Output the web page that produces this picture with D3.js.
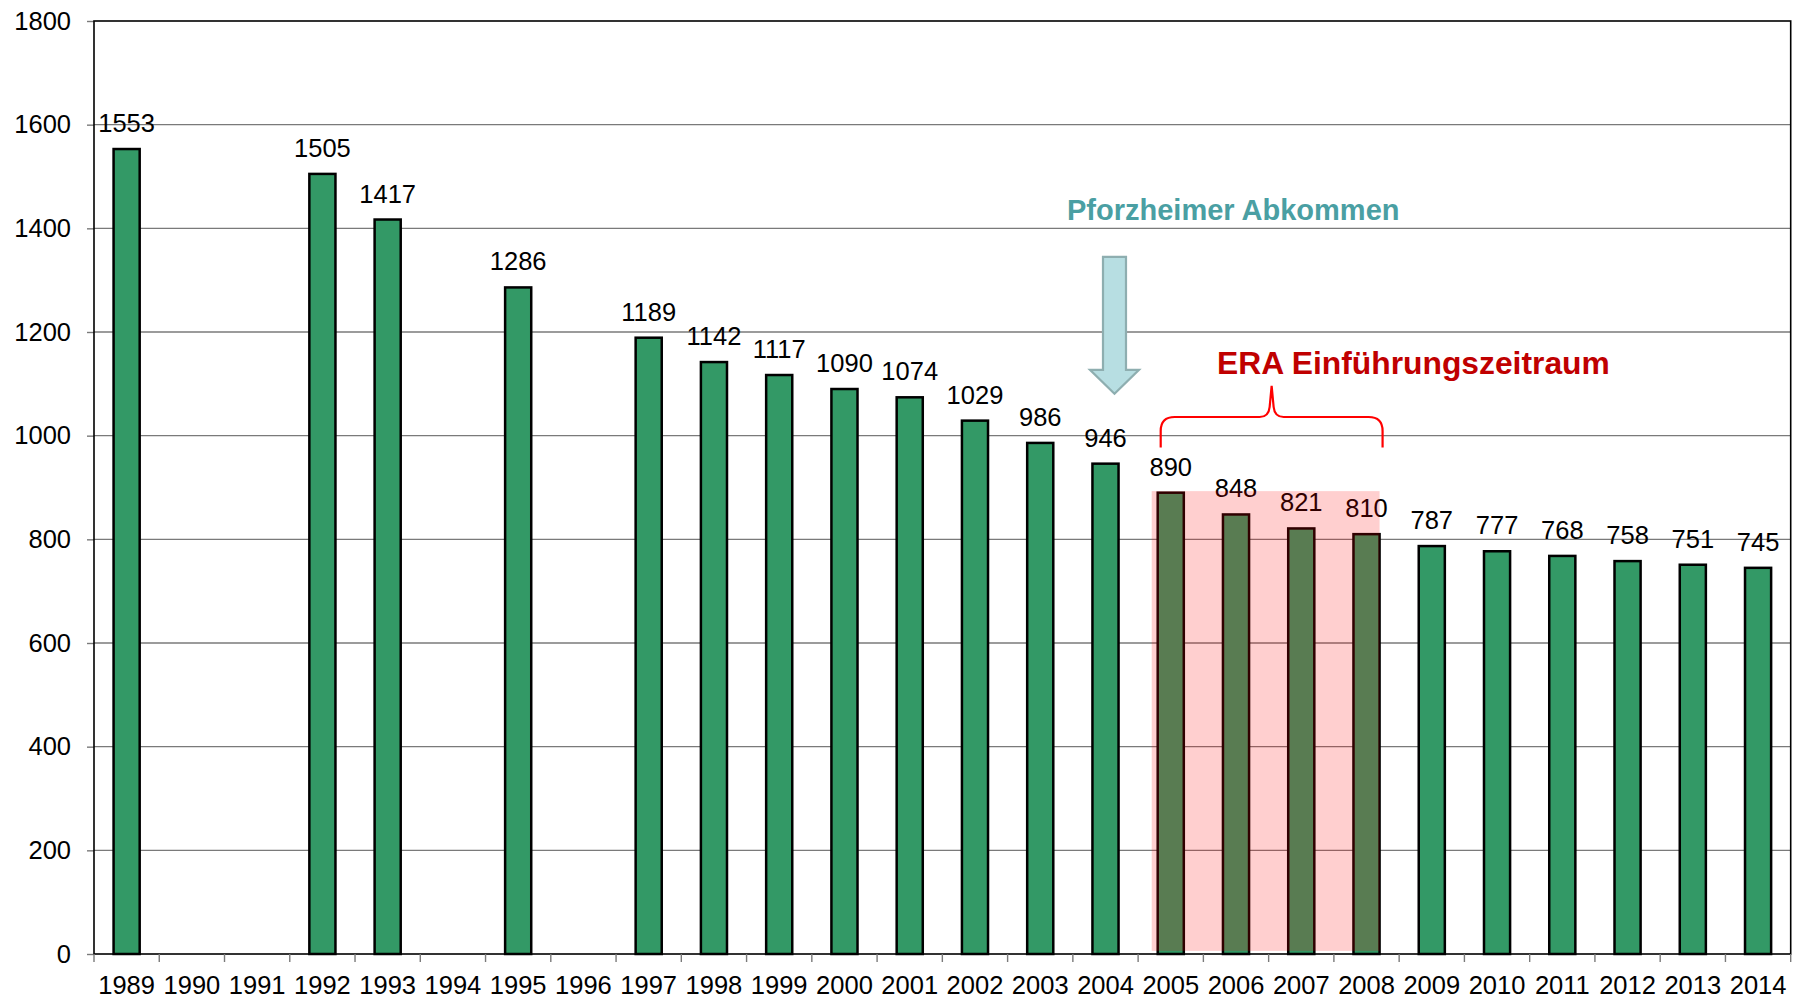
<!DOCTYPE html>
<html>
<head>
<meta charset="utf-8">
<script src="https://cdn.jsdelivr.net/npm/d3@7"></script>
<style>
  html, body { margin: 0; padding: 0; background: #fff; }
  text { font-family: "Liberation Sans", Arial, sans-serif; }
</style>
</head>
<body>
<div id="chart"></div>
<script>
const years = ["1989", "1990", "1991", "1992", "1993", "1994", "1995", "1996", "1997", "1998", "1999",
    "2000", "2001", "2002", "2003", "2004", "2005", "2006", "2007", "2008", "2009", "2010", "2011",
    "2012", "2013", "2014"];
// null = no value for that year
const values = [1553, null, null, 1505, 1417, null, 1286, null, 1189, 1142, 1117,
    1090, 1074, 1029, 986, 946, 890, 848, 821, 810, 787, 777, 768,
    758, 751, 745];
const yTicks = [0, 200, 400, 600, 800, 1000, 1200, 1400, 1600, 1800];
const eraYears = ["2005", "2008"];
const arrowLabel = "Pforzheimer Abkommen";
const eraLabel = "ERA Einführungszeitraum";

const width = 1804;
const height = 999;
const margin = { left: 94, right: 13.3, top: 21, bottom: 45 };
const fontSize = 25.5;

const svg = d3.select("#chart")
    .append("svg")
    .attr("width", width)
    .attr("height", height);

const x = d3.scaleBand()
    .domain(years)
    .range([margin.left, width - margin.right])
    .paddingInner(0.6)
    .paddingOuter(0.3);

const y = d3.scaleLinear()
    .domain([0, 1800])
    .range([height - margin.bottom, margin.top]);

const bw = x.bandwidth();
const gap = (x.step() - bw) / 2;

// gridlines
svg.append("g")
    .selectAll("line")
    .data(yTicks.filter(d => d > 0 && d < 1800))
    .enter()
    .append("line")
    .attr("x1", margin.left)
    .attr("x2", width - margin.right)
    .attr("y1", d => y(d))
    .attr("y2", d => y(d))
    .attr("stroke", "#7a7a7a")
    .attr("stroke-width", 1.4);

// y axis
const yAxis = svg.append("g")
    .attr("transform", `translate(${margin.left},0)`)
    .call(d3.axisLeft(y).tickValues(yTicks).tickFormat(d3.format("d")).tickSize(7).tickPadding(16));
yAxis.select(".domain").remove();
yAxis.selectAll(".tick line").attr("stroke", "#7a7a7a").attr("stroke-width", 1.4);
yAxis.selectAll(".tick text")
    .attr("font-size", fontSize)
    .attr("fill", "#000")
    .style("font-family", "'Liberation Sans', Arial, sans-serif");

// bars
const data = years.map((yr, i) => ({ year: yr, value: values[i] })).filter(d => d.value != null);

svg.append("g")
    .selectAll("rect")
    .data(data)
    .enter()
    .append("rect")
    .attr("x", d => x(d.year))
    .attr("y", d => y(d.value))
    .attr("width", bw)
    .attr("height", d => y(0) - y(d.value))
    .attr("fill", "#339966")
    .attr("stroke", "#000")
    .attr("stroke-width", 2.5);

// value labels
svg.append("g")
    .selectAll("text")
    .data(data)
    .enter()
    .append("text")
    .attr("x", d => x(d.year) + bw / 2)
    .attr("y", d => y(d.value) - 17)
    .attr("text-anchor", "middle")
    .attr("font-size", fontSize)
    .attr("fill", "#000")
    .text(d => d.value);

// ERA period shading (drawn on top of the bars)
svg.append("rect")
    .attr("x", x(eraYears[0]) - 6)
    .attr("y", y(893))
    .attr("width", x(eraYears[1]) + bw - x(eraYears[0]) + 6)
    .attr("height", y(6) - y(893))
    .attr("fill", "#ff0000")
    .attr("opacity", 0.19);

// plot frame
svg.append("rect")
    .attr("x", margin.left)
    .attr("y", margin.top)
    .attr("width", width - margin.right - margin.left)
    .attr("height", y(0) - margin.top)
    .attr("fill", "none")
    .attr("stroke", "#000")
    .attr("stroke-width", 1.6);

// x axis ticks at band boundaries
const bounds = years.map(d => x(d) - gap).concat([x(years[years.length - 1]) + bw + gap]);
svg.append("g")
    .selectAll("line")
    .data(bounds)
    .enter()
    .append("line")
    .attr("x1", d => d)
    .attr("x2", d => d)
    .attr("y1", y(0))
    .attr("y2", y(0) + 8)
    .attr("stroke", "#7a7a7a")
    .attr("stroke-width", 1.4);

svg.append("g")
    .selectAll("text")
    .data(years)
    .enter()
    .append("text")
    .attr("x", d => x(d) + bw / 2)
    .attr("y", y(0) + 40)
    .attr("text-anchor", "middle")
    .attr("font-size", fontSize)
    .attr("fill", "#000")
    .text(d => d);

// arrow "Pforzheimer Abkommen"
const ax = x("2004") + bw / 2 + 9;
const shaftW = 11.5, headW = 24.5;
const aTop = y(1345), aHead = y(1127), aTip = y(1081);
svg.append("path")
    .attr("d", `M${ax - shaftW},${aTop} L${ax + shaftW},${aTop} L${ax + shaftW},${aHead} L${ax + headW},${aHead}
        L${ax},${aTip} L${ax - headW},${aHead} L${ax - shaftW},${aHead} Z`)
    .attr("fill", "#b7dee2")
    .attr("stroke", "#8eaeb0")
    .attr("stroke-width", 2.2);

svg.append("text")
    .attr("x", 1067)
    .attr("y", 220)
    .attr("font-size", 29)
    .attr("font-weight", "bold")
    .attr("fill", "#4a9fa3")
    .text(arrowLabel);

// curly brace over ERA years
const bl = x(eraYears[0]) + 3;
const br = x(eraYears[1]) + bw + 3;
const bm = (bl + br) / 2;
const yb = y(977), yh = y(1036), yt = y(1096);
svg.append("path")
    .attr("d", `M${bl},${yb} L${bl},${yh + 14} Q${bl},${yh} ${bl + 14},${yh}
        L${bm - 12},${yh} Q${bm - 3},${yh} ${bm - 2},${yh - 10} L${bm},${yt}
        L${bm + 2},${yh - 10} Q${bm + 3},${yh} ${bm + 12},${yh}
        L${br - 14},${yh} Q${br},${yh} ${br},${yh + 14} L${br},${yb}`)
    .attr("fill", "none")
    .attr("stroke", "#ff0000")
    .attr("stroke-width", 2.2);

svg.append("text")
    .attr("x", 1217)
    .attr("y", 374)
    .attr("font-size", 31.8)
    .attr("font-weight", "bold")
    .attr("fill", "#c00000")
    .text(eraLabel);
</script>
</body>
</html>
